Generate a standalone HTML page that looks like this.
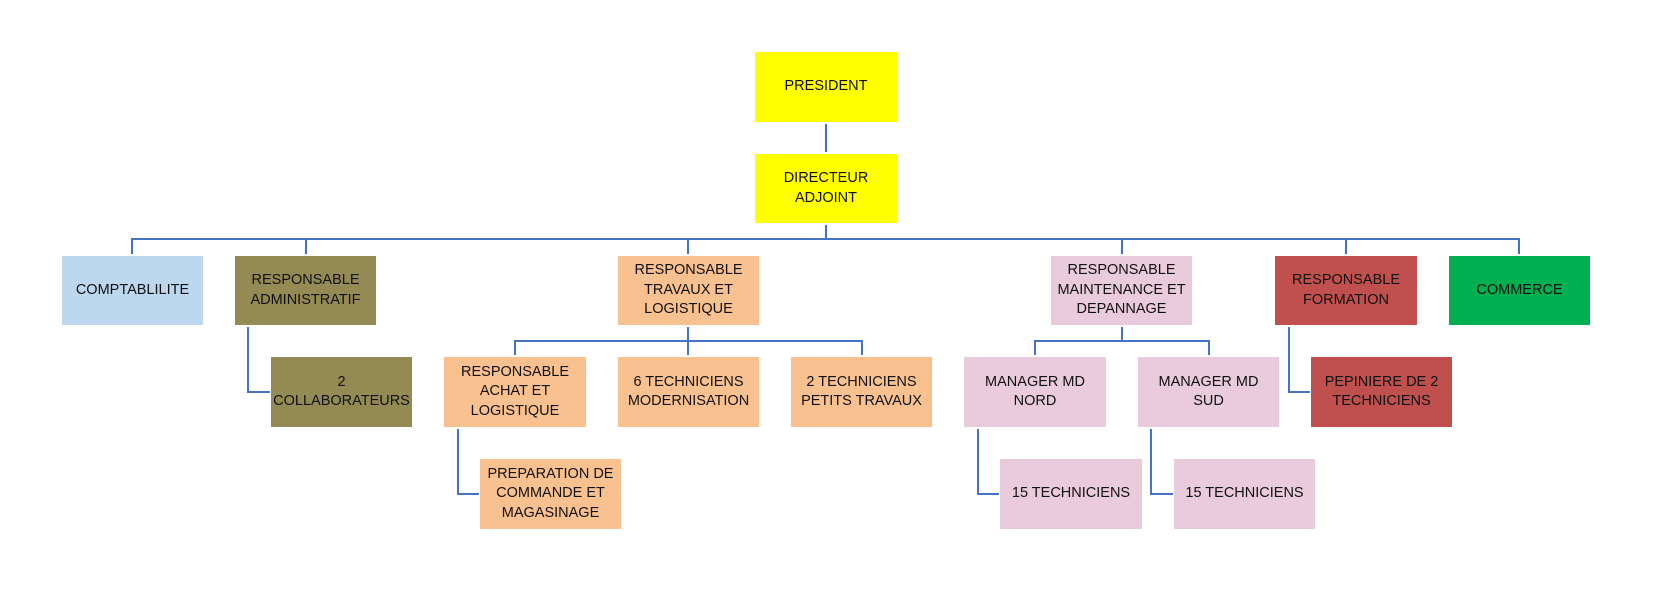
<!DOCTYPE html>
<html>
<head>
<meta charset="utf-8">
<style>
  html, body { margin:0; padding:0; background:#ffffff; }
  body { width:1660px; height:604px; position:relative; overflow:hidden; }
  svg { position:absolute; left:0; top:0; }
  .b {
    position:absolute; display:flex; align-items:center; justify-content:center;
    text-align:center; font-family:"Liberation Sans", Arial, sans-serif;
    font-size:14.5px; line-height:19.5px; color:#111; white-space:nowrap;
  }
  .y { background:#FFFF00; }
  .lb { background:#BDD7EE; }
  .ol { background:#948A54; }
  .pe { background:#F9C18F; }
  .pk { background:#EACBDB; }
  .rd { background:#C0504D; }
  .gr { background:#00B050; }
</style>
</head>
<body>
<svg width="1660" height="604" viewBox="0 0 1660 604">
  <g stroke="#4472C4" stroke-width="2" fill="none" stroke-linecap="butt">
    <!-- president to directeur -->
    <line x1="826" y1="124" x2="826" y2="152"/>
    <!-- directeur to main bus -->
    <line x1="826" y1="225" x2="826" y2="239"/>
    <line x1="131" y1="239" x2="1520" y2="239"/>
    <line x1="132" y1="239" x2="132" y2="254"/>
    <line x1="306" y1="239" x2="306" y2="254"/>
    <line x1="688" y1="239" x2="688" y2="254"/>
    <line x1="1122" y1="239" x2="1122" y2="254"/>
    <line x1="1346" y1="239" x2="1346" y2="254"/>
    <line x1="1519" y1="239" x2="1519" y2="254"/>
    <!-- travaux subtree -->
    <line x1="688" y1="327" x2="688" y2="355"/>
    <line x1="514" y1="341" x2="863" y2="341"/>
    <line x1="515" y1="341" x2="515" y2="355"/>
    <line x1="862" y1="341" x2="862" y2="355"/>
    <!-- maintenance subtree -->
    <line x1="1122" y1="327" x2="1122" y2="341"/>
    <line x1="1034" y1="341" x2="1210" y2="341"/>
    <line x1="1035" y1="341" x2="1035" y2="355"/>
    <line x1="1209" y1="341" x2="1209" y2="355"/>
    <!-- elbows -->
    <polyline points="248,327 248,392 270,392"/>
    <polyline points="458,429 458,494 479,494"/>
    <polyline points="978,429 978,494 999,494"/>
    <polyline points="1151,429 1151,494 1173,494"/>
    <polyline points="1289,327 1289,392 1310,392"/>
  </g>
</svg>

<div class="b y" style="left:755px;top:52px;width:142px;height:70px;">PRESIDENT</div>
<div class="b y" style="left:755px;top:154px;width:142px;height:69px;">DIRECTEUR<br>ADJOINT</div>

<div class="b lb" style="left:62px;top:256px;width:141px;height:69px;">COMPTABLILITE</div>
<div class="b ol" style="left:235px;top:256px;width:141px;height:69px;">RESPONSABLE<br>ADMINISTRATIF</div>
<div class="b pe" style="left:618px;top:256px;width:141px;height:69px;">RESPONSABLE<br>TRAVAUX ET<br>LOGISTIQUE</div>
<div class="b pk" style="left:1051px;top:256px;width:141px;height:69px;">RESPONSABLE<br>MAINTENANCE ET<br>DEPANNAGE</div>
<div class="b rd" style="left:1275px;top:256px;width:142px;height:69px;">RESPONSABLE<br>FORMATION</div>
<div class="b gr" style="left:1449px;top:256px;width:141px;height:69px;">COMMERCE</div>

<div class="b ol" style="left:271px;top:357px;width:141px;height:70px;">2<br>COLLABORATEURS</div>
<div class="b pe" style="left:444px;top:357px;width:142px;height:70px;">RESPONSABLE<br>ACHAT ET<br>LOGISTIQUE</div>
<div class="b pe" style="left:618px;top:357px;width:141px;height:70px;">6 TECHNICIENS<br>MODERNISATION</div>
<div class="b pe" style="left:791px;top:357px;width:141px;height:70px;">2 TECHNICIENS<br>PETITS TRAVAUX</div>
<div class="b pk" style="left:964px;top:357px;width:142px;height:70px;">MANAGER MD<br>NORD</div>
<div class="b pk" style="left:1138px;top:357px;width:141px;height:70px;">MANAGER MD<br>SUD</div>
<div class="b rd" style="left:1311px;top:357px;width:141px;height:70px;">PEPINIERE DE 2<br>TECHNICIENS</div>

<div class="b pe" style="left:480px;top:459px;width:141px;height:70px;">PREPARATION DE<br>COMMANDE ET<br>MAGASINAGE</div>
<div class="b pk" style="left:1000px;top:459px;width:142px;height:70px;">15 TECHNICIENS</div>
<div class="b pk" style="left:1174px;top:459px;width:141px;height:70px;">15 TECHNICIENS</div>
</body>
</html>
